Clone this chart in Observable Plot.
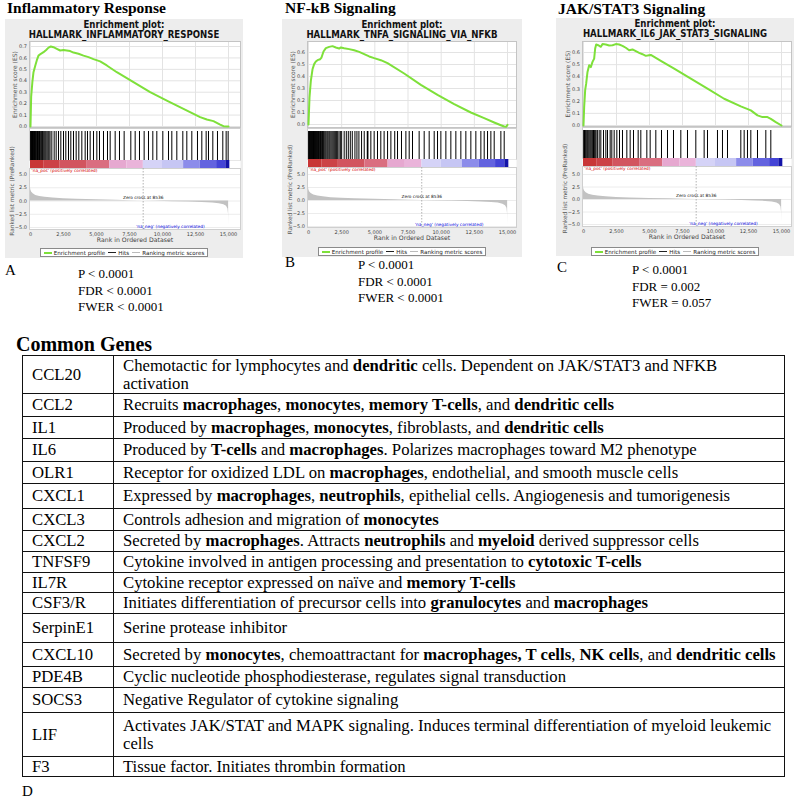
<!DOCTYPE html>
<html>
<head>
<meta charset="utf-8">
<script src="https://cdn.jsdelivr.net/npm/d3@7"></script>
<script src="https://cdn.jsdelivr.net/npm/@observablehq/plot@0.6"></script>
<style>
html,body{margin:0;padding:0;background:#fff;}
#root{position:relative;width:800px;height:798px;overflow:hidden;font-family:"Liberation Serif","Times New Roman",serif;color:#000;}
.ptitle{font-weight:bold;font-size:15.5px;line-height:1;white-space:nowrap;}
.box{background:#ededed;}
.hdr{font-family:"DejaVu Sans",sans-serif;font-weight:bold;font-size:10px;line-height:10.2px;text-align:center;color:#111;transform:scaleX(0.86);white-space:nowrap;}
.letter{font-size:15px;line-height:1;}
.stats{font-size:13px;line-height:16.5px;white-space:nowrap;}
.leg{display:flex;justify-content:center;}
.leg>div{background:#fff;border:1px solid #8a8a8a;height:9px;box-sizing:border-box;display:flex;align-items:center;padding:0 3px;font-family:"DejaVu Sans",sans-serif;font-size:5.6px;color:#222;white-space:nowrap;}
.sw{display:inline-block;width:8px;height:0;margin:0 2px 0 3px;}
.cg{font-size:20px;font-weight:bold;line-height:1;white-space:nowrap;}
table.genes{border-collapse:collapse;table-layout:fixed;font-size:16.7px;line-height:18px;}
table.genes td{border:1.6px solid #111;padding:0 2px 0 9px;vertical-align:middle;white-space:nowrap;}
</style>
</head>
<body>
<div id="root"></div>
<script>
// ---------------- DATA ----------------
const panelTitles = ["Inflammatory Response", "NF-kB Signaling", "JAK/STAT3 Signaling"];
const geneSets = ["HALLMARK_INFLAMMATORY_RESPONSE", "HALLMARK_TNFA_SIGNALING_VIA_NFKB", "HALLMARK_IL6_JAK_STAT3_SIGNALING"];
const panelLetters = ["A", "B", "C"];
const pValues = ["P < 0.0001", "P < 0.0001", "P < 0.0001"];
const fdrValues = ["FDR < 0.0001", "FDR < 0.0001", "FDR = 0.002"];
const fwerValues = ["FWER < 0.0001", "FWER < 0.0001", "FWER = 0.057"];

// running enrichment score [rank, ES]
const esInflammatory = [[0,0],[50,0.26],[150,0.40],[227,0.475],[354,0.53],[480,0.58],[606,0.62],[783,0.636],[985,0.65],[1187,0.67],[1364,0.69],[1540,0.70],[1742,0.694],[1995,0.68],[2247,0.665],[2500,0.67],[2752,0.665],[3005,0.66],[3257,0.647],[3636,0.636],[4015,0.62],[4394,0.607],[4772,0.59],[5277,0.57],[5782,0.534],[6540,0.475],[7802,0.388],[9065,0.30],[10327,0.227],[11590,0.155],[12852,0.082],[13357,0.061],[13862,0.047],[14367,0.017],[14620,0.003],[15000,0]];
const esNfkb = [[0,0],[75,0.225],[176,0.364],[302,0.46],[427,0.503],[553,0.525],[679,0.536],[880,0.544],[980,0.558],[1131,0.608],[1307,0.636],[1558,0.647],[1809,0.653],[2061,0.642],[2312,0.633],[2438,0.642],[2689,0.636],[3066,0.628],[3443,0.619],[3820,0.605],[4197,0.586],[4574,0.567],[4951,0.553],[5453,0.536],[5956,0.511],[7212,0.425],[8469,0.33],[9725,0.247],[10982,0.169],[12238,0.10],[13243,0.053],[13997,0.017],[14500,-0.006],[14751,-0.017],[14902,-0.019],[15002,-0.003]];
const esJakStat = [[0,0],[50,0.15],[126,0.29],[202,0.344],[303,0.44],[429,0.495],[555,0.48],[682,0.523],[808,0.55],[884,0.633],[960,0.666],[1111,0.66],[1313,0.647],[1439,0.669],[1692,0.666],[1944,0.658],[2197,0.66],[2449,0.669],[2702,0.666],[2954,0.655],[3207,0.639],[3459,0.619],[3712,0.625],[3964,0.611],[4217,0.597],[4469,0.586],[4722,0.573],[4848,0.575],[5100,0.58],[5353,0.564],[5858,0.531],[6868,0.468],[8130,0.385],[9393,0.303],[10655,0.22],[11918,0.157],[12676,0.124],[13181,0.083],[13559,0.069],[13938,0.069],[14191,0.055],[14569,0.028],[15000,0]];

// hit positions (rank)
const hitsInflammatory = [10,40,70,110,150,180,220,260,300,350,390,430,480,530,570,620,680,730,790,850,900,960,1030,1100,1170,1250,1330,1400,1480,1616,1793,1944,2121,2298,2500,2676,2879,3055,3257,3459,3661,3889,4141,4318,4520,4772,5025,5227,5530,5833,6035,6414,6742,7095,7600,7929,8257,8610,8939,9267,9570,10024,10454,10706,11085,11540,11842,12221,12650,12979,13307,13484,13812,14165,14569,14822,14973];
const hitsNfkb = [10,40,70,100,130,170,200,240,270,310,350,380,420,460,500,540,580,620,660,700,750,800,850,900,950,1000,1060,1120,1180,1250,1320,1400,1470,1550,1620,1700,1780,1860,1940,2020,2100,2200,2300,2400,2500,2690,2850,3000,3150,3300,3500,3650,3800,4000,4200,4430,4450,4480,4700,4950,5200,5450,5700,5960,6210,6500,6710,7010,7340,7590,7840,8340,8720,9097,9474,9725,9977,10354,10730,11107,11484,11861,12238,12615,12992,13243,13495,13746,13997,14500,14751];
const hitsJakStat = [20,50,80,126,180,252,320,400,480,555,631,700,757,820,884,950,1050,1187,1313,1515,1692,1818,2020,2146,2323,2525,2727,2954,3283,3535,3788,4141,4343,4798,5050,5479,5909,6363,6818,7373,7878,8509,9140,9393,10150,10529,10908,11918,12171,12423,12676,13181,13812,14191];

// ranked list metric [rank, value]
const rankedMetric = [[0,2.6],[20,2.1],[80,1.7],[200,1.35],[400,1.05],[700,0.85],[1100,0.7],[1700,0.55],[2500,0.42],[3500,0.32],[5000,0.22],[6500,0.13],[7600,0.06],[8536,0],[9500,-0.05],[10800,-0.12],[12000,-0.2],[13000,-0.28],[13800,-0.38],[14300,-0.5],[14650,-0.7],[14850,-1.0],[14960,-1.5],[15000,-2.5],[15010,-4.7]];
// heat bar bins [startRank, endRank, level]
const colorBins = [[0,1000,1.0],[1000,2250,0.9],[2250,4250,0.75],[4250,6000,0.55],[6000,7300,0.25],[7300,8550,0.15],[8550,10000,-0.08],[10000,11600,-0.2],[11600,12850,-0.45],[12850,14100,-0.65],[14100,14800,-0.8],[14800,15100,-1.0]];
const zeroCross = 8536;
const negLabelRank = 10600;

const rankTicks = [0, 2500, 5000, 7500, 10000, 12500, 15000];
const esTicksList = [[0,0.1,0.2,0.3,0.4,0.5,0.6,0.7],[0,0.1,0.2,0.3,0.4,0.5,0.6],[0,0.1,0.2,0.3,0.4,0.5,0.6]];
const metricTicks = [-5, -2.5, 0, 2.5, 5];

const genes = ["CCL20","CCL2","IL1","IL6","OLR1","CXCL1","CXCL3","CXCL2","TNFSF9","IL7R","CSF3/R","SerpinE1","CXCL10","PDE4B","SOCS3","LIF","F3"];
const geneDescriptions = [
  "Chemotactic for lymphocytes and **dendritic** cells. Dependent on JAK/STAT3 and NFKB\nactivation",
  "Recruits **macrophages**, **monocytes**, **memory T-cells**, and **dendritic cells**",
  "Produced by **macrophages**, **monocytes**, fibroblasts, and **dendritic cells**",
  "Produced by **T-cells** and **macrophages**. Polarizes macrophages toward M2 phenotype",
  "Receptor for oxidized LDL on **macrophages**, endothelial, and smooth muscle cells",
  "Expressed by **macrophages**, **neutrophils**, epithelial cells. Angiogenesis and tumorigenesis",
  "Controls adhesion and migration of **monocytes**",
  "Secreted by **macrophages**. Attracts **neutrophils** and **myeloid** derived suppressor cells",
  "Cytokine involved in antigen processing and presentation to **cytotoxic T-cells**",
  "Cytokine receptor expressed on naïve and **memory T-cells**",
  "Initiates differentiation of precursor cells into **granulocytes** and **macrophages**",
  "Serine protease inhibitor",
  "Secreted by **monocytes**, chemoattractant for **macrophages, T cells**, **NK cells**, and **dendritic cells**",
  "Cyclic nucleotide phosphodiesterase, regulates signal transduction",
  "Negative Regulator of cytokine signaling",
  "Activates JAK/STAT and MAPK signaling. Induces terminal differentiation of myeloid leukemic\ncells",
  "Tissue factor. Initiates thrombin formation"
];

// ---------------- LAYOUT ----------------
const esData = [esInflammatory, esNfkb, esJakStat];
const hitsData = [hitsInflammatory, hitsNfkb, hitsJakStat];
const layout = [
  {boxL:5, boxR:243, boxT:19, boxB:258, plotL:29, plotR:240, x0:30, x15:228, esT:41, esB:127, esTop:46, esZero:126, hitsT:128, barT:160, metT:168, metB:229, y5:174, yM5:227, legT:248, titleX:7, titleTop:0, letterX:5, letterTop:263, statX:78, statTop:266},
  {boxL:282, boxR:522, boxT:19, boxB:257, plotL:307, plotR:516, x0:308, x15:507, esT:41, esB:127, esTop:52, esZero:124, hitsT:128, barT:159, metT:167, metB:227, y5:174, yM5:226, legT:247, titleX:285, titleTop:0, letterX:285, letterTop:255, statX:358, statTop:257},
  {boxL:556, boxR:794, boxT:18, boxB:256, plotL:582, plotR:791, x0:583, x15:781, esT:41, esB:126, esTop:52, esZero:125, hitsT:127, barT:158, metT:166, metB:226, y5:174, yM5:224, legT:247, titleX:558, titleTop:1, letterX:557, letterTop:260, statX:632, statTop:262}
];
const rowHeights = [38,23,22,23,22,25,22,21,21,20,21,29,24,21,25,44,20];

const GREEN = "#7ee03a";
const root = document.getElementById("root");
function put(el, left, top) {
  el.style.position = "absolute"; el.style.left = left + "px"; el.style.top = top + "px";
  root.appendChild(el); return el;
}
function div(cls, html) { const d = document.createElement("div"); d.className = cls; d.innerHTML = html; return d; }
const baseStyle = {background: "none", fontFamily: "DejaVu Sans, sans-serif", fontSize: "5px", color: "#333", overflow: "visible"};

layout.forEach((L, i) => {
  const w = L.boxR - L.boxL;
  const mL = L.plotL - L.boxL, mR = L.boxR - L.plotR;
  const xScale = {domain: [0, 15000], insetLeft: L.x0 - L.plotL, insetRight: L.plotR - L.x15, axis: null};
  const esTicks = esTicksList[i];

  put(div("ptitle", panelTitles[i]), L.titleX, L.titleTop);
  const box = put(div("box", ""), L.boxL, L.boxT);
  box.style.width = w + "px"; box.style.height = (L.boxB - L.boxT) + "px";

  // Enrichment score plot
  const es = Plot.plot({
    width: w, height: L.esB - L.boxT,
    marginLeft: mL, marginRight: mR, marginTop: L.esT - L.boxT, marginBottom: 0,
    style: baseStyle,
    x: xScale,
    y: {domain: [0, esTicks[esTicks.length - 1]], insetTop: L.esTop - L.esT, insetBottom: L.esB - L.esZero},
    marks: [
      Plot.frame({fill: "white", stroke: "none"}),
      Plot.gridX(rankTicks, {stroke: "#e3e3e3", strokeOpacity: 1}),
      Plot.gridY(esTicks, {stroke: "#e3e3e3", strokeOpacity: 1}),
      Plot.frame({stroke: "#c4c4c4"}),
      Plot.axisY(esTicks, {tickFormat: d3.format(".1f"), tickSize: 0, tickPadding: 2.5, label: null, fontSize: 5, fill: "#444"}),
      Plot.text(["Enrichment score (ES)"], {frameAnchor: "left", rotate: -90, textAnchor: "middle", dx: -14, fontSize: 6, fill: "#555"}),
      Plot.line(esData[i], {x: d => d[0], y: d => d[1], stroke: GREEN, strokeWidth: 2})
    ]
  });
  put(es, L.boxL, L.boxT);
  const hdr = put(div("hdr", "Enrichment plot:<br>" + geneSets[i]), L.boxL, L.boxT + 1);
  hdr.style.width = w + "px";

  // Hits
  const hits = Plot.plot({
    width: w, height: L.barT - L.hitsT,
    marginLeft: mL, marginRight: mR, marginTop: 0, marginBottom: 0,
    style: baseStyle,
    x: xScale,
    marks: [
      Plot.frame({fill: "white", stroke: "#cfcfcf"}),
      Plot.ruleX(hitsData[i], {stroke: "#000", strokeWidth: 1, insetTop: 3})
    ]
  });
  put(hits, L.boxL, L.hitsT);

  // Heat bar
  const bar = Plot.plot({
    width: w, height: L.metT - L.barT,
    marginLeft: mL, marginRight: mR, marginTop: 0, marginBottom: 0,
    style: baseStyle,
    x: xScale,
    color: {type: "linear", domain: [-1, -0.8, -0.45, -0.2, -0.02, 0.02, 0.25, 0.55, 1],
            range: ["#1414a8", "#4444d6", "#8c8cea", "#c6c6f4", "#dcdaf8", "#f0c4e6", "#e6a8d0", "#da6e80", "#c83636"]},
    marks: [
      Plot.frame({fill: "white", stroke: "none"}),
      Plot.rect(colorBins, {x1: d => d[0], x2: d => d[1], fill: d => d[2]})
    ]
  });
  put(bar, L.boxL, L.barT);

  // Ranked list metric
  const met = Plot.plot({
    width: w, height: (L.metB - L.metT) + 22,
    marginLeft: mL, marginRight: mR, marginTop: 0, marginBottom: 22,
    style: baseStyle,
    x: {domain: [0, 15000], insetLeft: L.x0 - L.plotL, insetRight: L.plotR - L.x15},
    y: {domain: [-5, 5], insetTop: L.y5 - L.metT, insetBottom: L.metB - L.yM5},
    marks: [
      Plot.frame({fill: "white", stroke: "none"}),
      Plot.gridY(metricTicks, {stroke: "#ececec", strokeOpacity: 1}),
      Plot.frame({stroke: "#cfcfcf"}),
      Plot.areaY(rankedMetric, {x: d => d[0], y: d => d[1], fill: "#c2c2c2"}),
      Plot.ruleX([zeroCross], {stroke: "#a0a0a0", strokeWidth: 0.8, strokeDasharray: "1.5,1.5"}),
      Plot.axisY(metricTicks, {tickFormat: d3.format(".1f"), tickSize: 0, tickPadding: 2.5, label: null, fontSize: 5, fill: "#444"}),
      Plot.axisX(rankTicks, {tickFormat: d3.format(","), tickSize: 0, tickPadding: 2.5, label: null, fontSize: 5, fill: "#444"}),
      Plot.text(["Rank in Ordered Dataset"], {frameAnchor: "bottom", lineAnchor: "middle", dy: 10.5, fontSize: 6.2, fill: "#444"}),
      Plot.text(["Ranked list metric (PreRanked)"], {frameAnchor: "left", rotate: -90, textAnchor: "middle", dx: -17, dy: -8, fontSize: 5.8, fill: "#555"}),
      Plot.text(["'na_pos' (positively correlated)"], {frameAnchor: "top-left", textAnchor: "start", dx: 2, dy: 0.5, fontSize: 4.3, fill: "#d40000"}),
      Plot.text([`Zero cross at ${zeroCross}`], {x: zeroCross, y: 0, dy: -3.5, fontSize: 4.3, fill: "#111"}),
      Plot.text(["'na_neg' (negatively correlated)"], {x: negLabelRank, frameAnchor: "bottom", lineAnchor: "bottom", dy: -2, fontSize: 4.3, fill: "#0000dd"})
    ]
  });
  put(met, L.boxL, L.metT);

  // Legend
  const leg = put(div("leg", `<div><span class="sw" style="border-top:2px solid ${GREEN};margin-left:0"></span>Enrichment profile<span class="sw" style="border-top:1px solid #222"></span>Hits<span class="sw" style="border-top:1px solid #bbb"></span>Ranking metric scores</div>`), L.boxL, L.legT);
  leg.style.width = w + "px";

  // Letters and statistics
  put(div("letter", panelLetters[i]), L.letterX, L.letterTop);
  put(div("stats", `${pValues[i]}<br>${fdrValues[i]}<br>${fwerValues[i]}`), L.statX, L.statTop);
});

// ---------------- TABLE ----------------
put(div("cg", "Common Genes"), 16, 334);
const table = document.createElement("table");
table.className = "genes";
table.innerHTML = `<colgroup><col style="width:91px"><col style="width:671px"></colgroup>` +
  genes.map((g, k) => `<tr style="height:${rowHeights[k]}px"><td>${g}</td><td>${geneDescriptions[k].replace(/\*\*(.+?)\*\*/g, "<b>$1</b>").replace(/\n/g, "<br>")}</td></tr>`).join("");
table.style.width = "762px";
put(table, 22, 355);
put(div("letter", "D"), 22, 784);
</script>
</body>
</html>
